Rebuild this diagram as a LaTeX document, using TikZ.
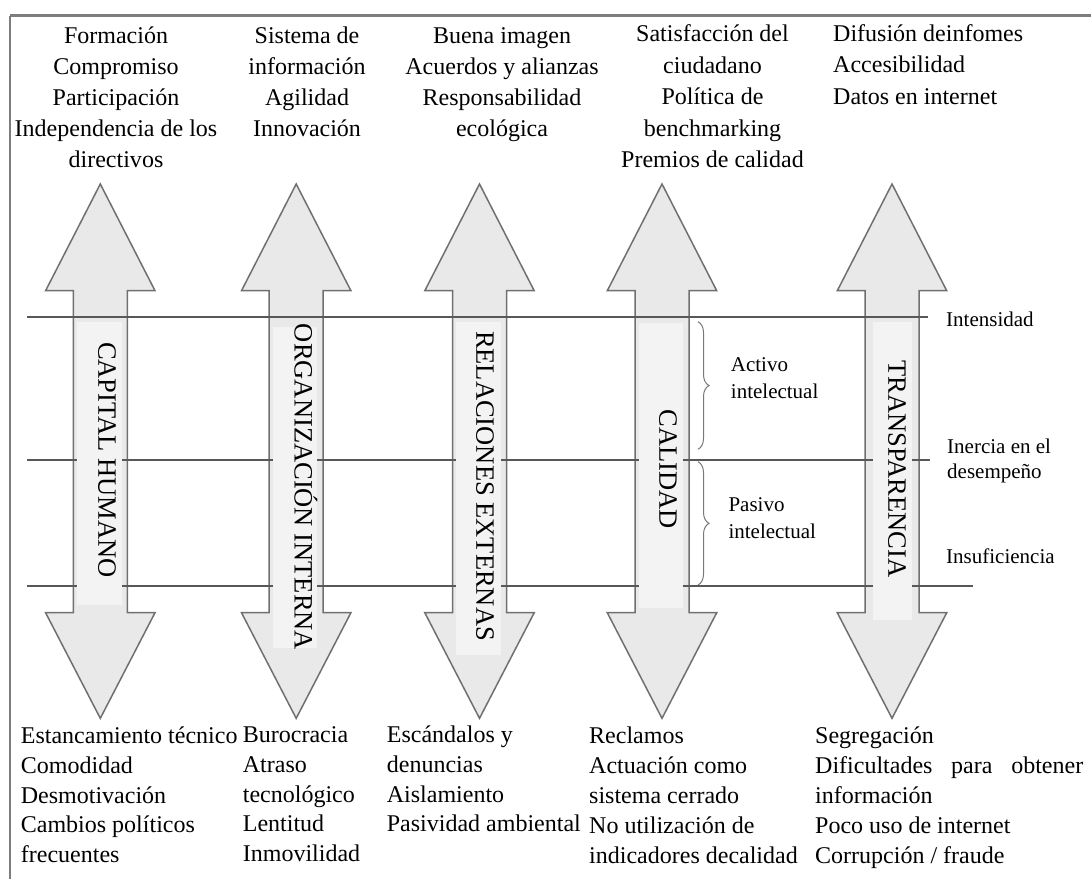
\documentclass[tikz,border=0pt]{standalone}
\usepackage{fontspec}
\setmainfont{Liberation Serif}
\usetikzlibrary{decorations.pathreplacing}

\definecolor{arrowfill}{RGB}{233,233,233}
\definecolor{labelfill}{RGB}{243,243,243}
\definecolor{edgegray}{RGB}{112,112,112}
\definecolor{linegray}{RGB}{88,88,88}
\definecolor{framegray}{RGB}{125,125,125}
\definecolor{bracegray}{RGB}{120,120,120}

% strut that fixes the height of the first line of a text block
\newcommand\firstln{\rule{0pt}{22pt}}
\newcommand\firstsm{\rule{0pt}{20pt}}

\begin{document}
\begin{tikzpicture}[x=1pt,y=-1pt,
  bigarrow/.style={fill=arrowfill, draw=edgegray, line width=1.5pt, line join=miter},
  level/.style={draw=linegray, line width=2pt},
  labelbox/.style={fill=labelfill},
  dimtext/.style={rotate=-90, anchor=base, inner sep=0pt, font=\fontsize{26.5}{26.5}\selectfont},
  toptext/.style={anchor=north, align=center, inner sep=0pt, font=\fontsize{24}{31}\selectfont},
  bottext/.style={anchor=north west, align=left, inner sep=0pt, font=\fontsize{24}{29.7}\selectfont},
  sidetext/.style={inner sep=0pt, font=\fontsize{21}{25}\selectfont},
  bracestyle/.style={draw=bracegray, line width=1pt, decorate, decoration={brace, amplitude=11pt}}
]
\useasboundingbox (0,0) rectangle (1091,879);
\fill[white] (0,0) rectangle (1091,879);

% frame
\coordinate (fbl) at (10,879);
\coordinate (ftl) at (10,15.5);
\coordinate (ftr) at (1091,15.5);
\draw[framegray, line width=2.6pt] (ftl) -- (ftr);
\draw[framegray, line width=1.8pt] (fbl) -- (ftl);

% double-headed block arrows
\foreach \c in {100.3, 296.2, 479.5, 662, 892}{
  \draw[bigarrow] (\c,184) -- (\c+54.7,290.7) -- (\c+27,290.7) -- (\c+27,612.7)
    -- (\c+54.7,612.7) -- (\c,718.3) -- (\c-54.7,612.7) -- (\c-27,612.7)
    -- (\c-27,290.7) -- (\c-54.7,290.7) -- cycle;
}

% levels
\coordinate (l1a) at (27,316.7);  \coordinate (l1b) at (928.3,316.7);
\coordinate (l2a) at (27,460);    \coordinate (l2b) at (930,460);
\coordinate (l3a) at (27,586);    \coordinate (l3b) at (973.3,586);
\draw[level] (l1a) -- (l1b);
\draw[level] (l2a) -- (l2b);
\draw[level] (l3a) -- (l3b);

% label panels inside the shafts
\fill[labelbox] (77.3,321.7) rectangle (121.7,605);
\fill[labelbox] (272.7,327) rectangle (316.7,648.3);
\fill[labelbox] (456,321.7) rectangle (501,655);
\fill[labelbox] (639.3,323) rectangle (683.3,608.3);
\fill[labelbox] (872.5,321.7) rectangle (911.5,620);

% dimension names
\node[dimtext] (d1) at (98.3,460) {CAPITAL HUMANO};
\node[dimtext] (d2) at (294.6,487) {ORGANIZACIÓN INTERNA};
\node[dimtext] (d3) at (476.3,486) {RELACIONES EXTERNAS};
\node[dimtext] (d4) at (659.3,469) {CALIDAD};
\node[dimtext] (d5) at (888.3,469) {TRANSPARENCIA};

% braces
\coordinate (b1a) at (698,321.7); \coordinate (b1b) at (698,449.3);
\coordinate (b2a) at (698,461.7); \coordinate (b2b) at (698,585);
\draw[bracestyle] (b1a) -- (b1b);
\draw[bracestyle] (b2a) -- (b2b);
\node[sidetext, anchor=north west, align=left, font=\fontsize{21}{26.6}\selectfont] (act) at (730.7,351.7) {\firstsm Activo\\intelectual};
\node[sidetext, anchor=north west, align=left, font=\fontsize{21}{26.6}\selectfont] (pas) at (728.3,491.7) {\firstsm Pasivo\\intelectual};

% level names
\node[sidetext, anchor=base west] (int) at (946,326) {Intensidad};
\node[sidetext, anchor=north west, align=left] (ine) at (947,433.3) {\firstsm Inercia en el\\desempeño};
\node[sidetext, anchor=base west] (ins) at (946,563.3) {Insuficiencia};

% strengths
\node[toptext] (s1) at (116,21) {\firstln Formación\\Compromiso\\Participación\\Independencia de los\\directivos};
\node[toptext] (s2) at (307,21) {\firstln Sistema de\\información\\Agilidad\\Innovación};
\begin{scope}
  \clip (380,0) rectangle (597.5,200);
  \node[toptext] (s3) at (502,21) {\firstln Buena imagen\\Acuerdos y alianzas\\Responsabilidad\\ecológica};
\end{scope}
\node[toptext, font=\fontsize{24}{31.5}\selectfont] (s4) at (712.5,19.5) {\firstln Satisfacción del\\ciudadano\\Política de\\benchmarking\\Premios de calidad};
\node[toptext, anchor=north west, align=left, font=\fontsize{24}{31.5}\selectfont] (s5) at (833,19) {\firstln Difusión deinfomes\\Accesibilidad\\Datos en internet};

% weaknesses
\node[bottext] (w1) at (20.7,721.5) {\firstln Estancamiento técnico\\Comodidad\\Desmotivación\\Cambios políticos\\frecuentes};
\node[bottext] (w2) at (242.7,720.5) {\firstln Burocracia\\Atraso\\tecnológico\\Lentitud\\Inmovilidad};
\node[bottext] (w3) at (386.7,720.5) {\firstln Escándalos y\\denuncias\\Aislamiento\\Pasividad ambiental};
\node[bottext, font=\fontsize{24}{30}\selectfont] (w4) at (589,721) {\firstln Reclamos\\Actuación como\\sistema cerrado\\No utilización de\\indicadores decalidad};
\node[bottext, font=\fontsize{24}{30}\selectfont] (w5) at (815,721) {\firstln Segregación\\\makebox[268pt][s]{Dificultades para obtener}\\información\\Poco uso de internet\\Corrupción / fraude};
\end{tikzpicture}
\end{document}
